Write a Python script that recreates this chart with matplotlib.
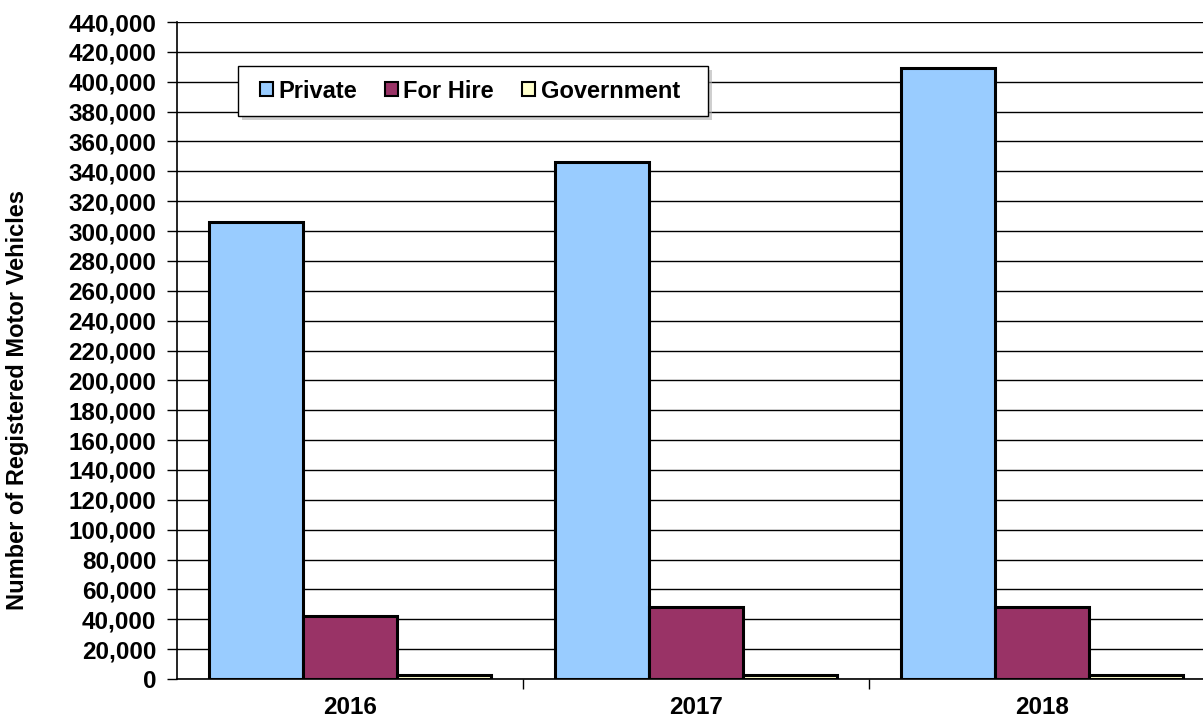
import matplotlib
matplotlib.use("Agg")
import matplotlib.pyplot as plt
import numpy as np
from matplotlib.ticker import FuncFormatter, MultipleLocator
from matplotlib.patches import Rectangle

years = ["2016", "2017", "2018"]
series_names = ["Private", "For Hire", "Government"]
private = [306000, 346000, 409500]
for_hire = [42500, 48000, 48000]
government = [2500, 2500, 2800]
colors = ["#99CCFF", "#993366", "#FFFFCC"]

plt.rcParams['font.family'] = ['Liberation Sans', 'DejaVu Sans']
plt.rcParams['font.weight'] = 'bold'

W, H = 1203, 718
fig = plt.figure(figsize=(W/100, H/100), dpi=100)
ax_l, ax_r, ax_t, ax_b = 177, 1215, 22, 679
ax = fig.add_axes([ax_l/W, 1 - ax_b/H, (ax_r-ax_l)/W, (ax_b-ax_t)/H])

x = np.arange(len(years))
bw = 94/346
for i, (vals, name) in enumerate(zip([private, for_hire, government], series_names)):
    ax.bar(x + (i-1)*bw, vals, width=bw, color=colors[i], edgecolor='black',
           linewidth=2.2, label=name, zorder=3)

ax.set_xlim(-0.5, 2.5)
ax.set_ylim(0, 440000)
ax.yaxis.set_major_locator(MultipleLocator(20000))
ax.yaxis.set_major_formatter(FuncFormatter(lambda v, p: f"{int(v):,}"))
ax.grid(axis='y', color='black', linewidth=1.0, zorder=0)
ax.set_axisbelow(True)

ax.set_xticks(x)
ax.set_xticklabels(years, fontsize=17.5, fontweight='bold')
ax.set_xticks([0.5, 1.5], minor=True)
ax.tick_params(axis='x', which='major', length=0, pad=12)
ax.tick_params(axis='x', which='minor', length=7, width=1, color='black')
ax.tick_params(axis='y', length=7, width=1, labelsize=17.5, pad=8)
for lab in ax.get_yticklabels():
    lab.set_fontweight('bold')

for s in ['top', 'right']:
    ax.spines[s].set_visible(False)
ax.spines['left'].set_linewidth(1.2)
ax.spines['bottom'].set_linewidth(1.2)

fig.text(18/W, 1 - 400/H, "Number of Registered Motor Vehicles", rotation=90,
         fontsize=17, fontweight='bold', ha='center', va='center')

# legend frame with shadow (pixel coordinates of reference)
bx0, bx1, by0, by1 = 238, 708, 66, 116
shadow = Rectangle((bx0 + 4, H - by1 - 4), bx1 - bx0, by1 - by0, transform=None,
                   facecolor='#b0b0b0', edgecolor='none', alpha=0.6, zorder=4)
frame = Rectangle((bx0, H - by1), bx1 - bx0, by1 - by0, transform=None,
                  facecolor='white', edgecolor='black', linewidth=1.0, zorder=5)
fig.patches.extend([shadow, frame])

leg = fig.legend(*ax.get_legend_handles_labels(), loc='center left',
                 bbox_to_anchor=(260/W, 1 - 91/H),
                 ncol=3, frameon=False,
                 prop={'size': 17, 'weight': 'bold'},
                 handlelength=0.55, handleheight=0.55, handletextpad=0.22,
                 columnspacing=1.2, borderpad=0, borderaxespad=0)
leg.set_zorder(6)
for h in leg.legend_handles:
    h.set_linewidth(1.5)

fig.savefig("out.png", dpi=100)
